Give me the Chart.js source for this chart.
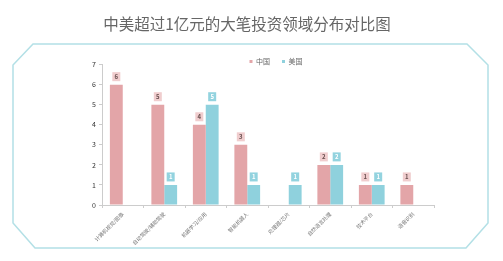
<!DOCTYPE html>
<html>
<head>
<meta charset="utf-8">
<script src="https://cdn.jsdelivr.net/npm/chart.js@4"></script>
<style>
  html, body { margin: 0; padding: 0; background: #fff; }
  #wrap { width: 503px; height: 261px; position: relative; }
</style>
</head>
<body>
<div id="wrap"><canvas id="bars" width="503" height="261"></canvas></div>
<script>
// data
var categories = ['计算机视觉/图像', '自动驾驶/辅助驾驶', '机器学习/应用', '智能机器人', '处理器/芯片', '自然语言处理', '技术平台', '语音识别'];
var chinaValues = [6, 5, 4, 3, 0, 2, 1, 1];
var usValues = [0, 1, 5, 1, 1, 2, 1, 0];
var seriesNames = ['中国', '美国'];
var yMax = 7;

var chinaColor = '#e3a5a8';
var usColor = '#8fd1dd';
var fontFam = '"Noto Sans CJK SC", "Noto Sans", sans-serif';

// the light cyan octagon frame behind the chart
var framePlugin = {
  id: 'frame',
  beforeDraw: function(chart) {
    var ctx = chart.ctx;
    ctx.save();
    ctx.fillStyle = '#fff';
    ctx.fillRect(0, 0, chart.width, chart.height);
    ctx.strokeStyle = '#b3e0e6';
    ctx.lineWidth = 1.5;
    ctx.beginPath();
    ctx.moveTo(33, 44);
    ctx.lineTo(467, 44);
    ctx.lineTo(488, 65);
    ctx.lineTo(488, 223);
    ctx.lineTo(466, 248);
    ctx.lineTo(35, 248);
    ctx.lineTo(13, 223);
    ctx.lineTo(13, 65);
    ctx.closePath();
    ctx.stroke();
    ctx.restore();
  }
};

// nudge the legend to where it sits in the picture
var legendShift = {
  id: 'legendShift',
  afterLayout: function(chart) {
    var lg = chart.legend;
    if (!lg) return;
    // legend items should sit around x 250..303, y 62
    var dx = 29;
    var dy = 62 - (lg.top + 12 + 4);
    lg.left += dx; lg.right += dx;
    lg.top += dy; lg.bottom += dy;
  }
};

// little value boxes above each bar
var valueBoxes = {
  id: 'valueBoxes',
  afterDatasetsDraw: function(chart) {
    var ctx = chart.ctx;
    ctx.save();
    chart.data.datasets.forEach(function(ds, di) {
      var meta = chart.getDatasetMeta(di);
      meta.data.forEach(function(bar, i) {
        var v = ds.data[i];
        if (!v) return;
        var cx = bar.x, top = bar.y;
        ctx.fillStyle = di === 0 ? '#f0cdce' : '#93d3df';
        ctx.fillRect(cx - 4, top - 12.5, 8, 9);
        ctx.fillStyle = di === 0 ? '#6a5050' : '#ffffff';
        ctx.font = 'bold 6px ' + fontFam;
        ctx.textAlign = 'center';
        ctx.textBaseline = 'middle';
        ctx.fillText(String(v), cx, top - 8);
      });
    });
    ctx.restore();
  }
};

var chart = new Chart(document.getElementById('bars'), {
  type: 'bar',
  data: {
    labels: categories,
    datasets: [
      { label: seriesNames[0], data: chinaValues, backgroundColor: chinaColor, borderWidth: 0 },
      { label: seriesNames[1], data: usValues, backgroundColor: usColor, borderWidth: 0 }
    ]
  },
  options: {
    responsive: false,
    animation: false,
    categoryPercentage: 0.62,
    barPercentage: 1,
    layout: { padding: { left: 60, right: 69, top: 0, bottom: 16 } },
    plugins: {
      title: {
        display: true,
        text: '中美超过1亿元的大笔投资领域分布对比图',
        color: '#666',
        font: { family: fontFam, size: 15.5, weight: 'normal' },
        padding: { top: 15, bottom: 2 }
      },
      legend: {
        position: 'top',
        labels: {
          boxWidth: 3,
          boxHeight: 3,
          padding: 12,
          color: '#666',
          font: { family: fontFam, size: 7 }
        },
        afterFit: function(lg) { lg.height = 35; }
      },
      tooltip: { enabled: false }
    },
    scales: {
      x: {
        grid: { drawOnChartArea: false, tickLength: 3, color: '#ccc' },
        border: { color: '#ccc' },
        ticks: {
          autoSkip: false,
          minRotation: 45,
          maxRotation: 45,
          padding: 3,
          color: '#777',
          font: { family: fontFam, size: 5.2 }
        },
        afterFit: function(scale) { scale.height = 40; }
      },
      y: {
        min: 0,
        max: yMax,
        grid: { drawOnChartArea: false, tickLength: 3, color: '#ccc' },
        border: { color: '#ccc' },
        ticks: {
          stepSize: 1,
          padding: 3,
          color: '#333',
          font: { family: fontFam, size: 7 }
        },
        afterFit: function(scale) { scale.width = 42; }
      }
    }
  },
  plugins: [framePlugin, legendShift, valueBoxes]
});
</script>
</body>
</html>
